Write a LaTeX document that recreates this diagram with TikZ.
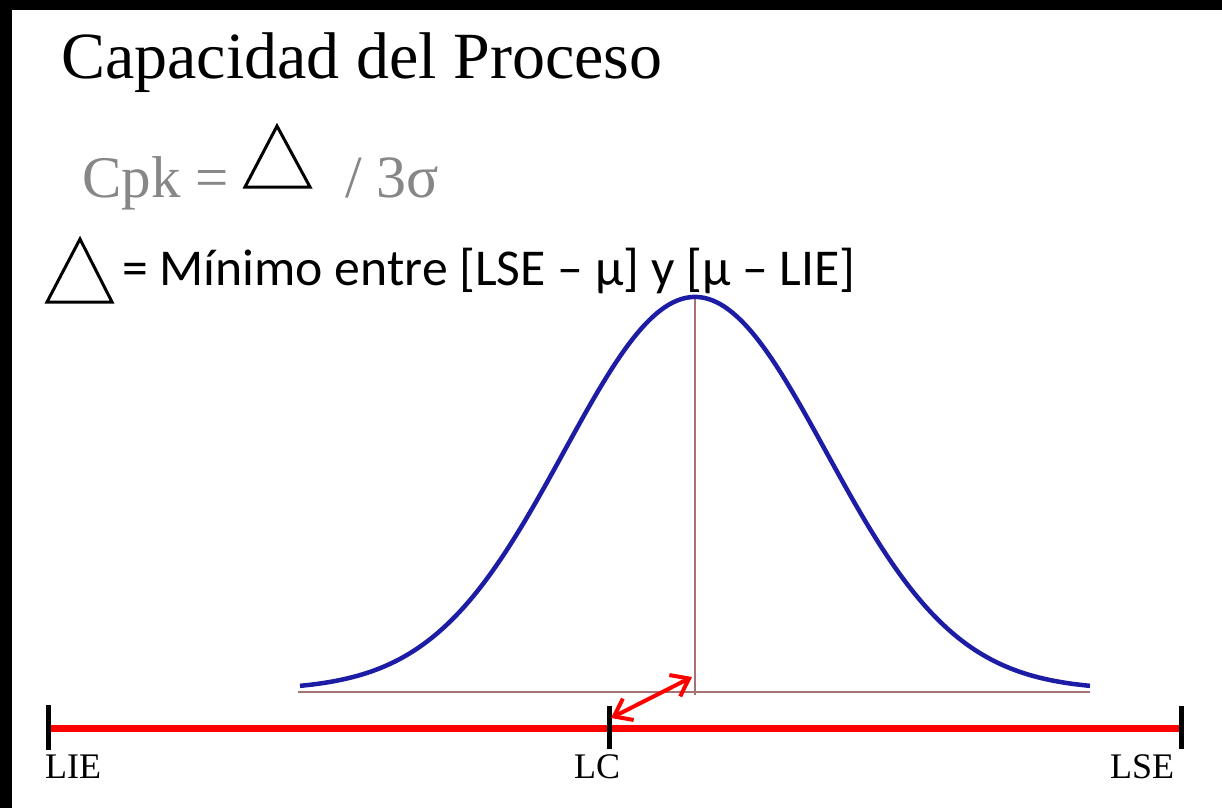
\documentclass[tikz,border=0pt]{standalone}
\usepackage{fontspec}
\setmainfont{Liberation Serif}
\newfontfamily\calib{Carlito}
\usetikzlibrary{arrows.meta}
\definecolor{curveblue}{RGB}{28,28,165}
\definecolor{axisbrown}{RGB}{165,115,115}
\definecolor{cpkgray}{RGB}{135,135,135}
\tikzset{
  txt/.style={inner sep=0pt, anchor=base west},
  tri/.style={draw=black, line width=3pt, line join=miter},
  tickmark/.style={draw=black, line width=5pt},
  redaxis/.style={draw=red, line width=7pt},
  guide/.style={draw=axisbrown, line width=1.3pt},
  gauss/.style={draw=curveblue, line width=4.5pt, line join=round},
  dblarrow/.style={draw=red, line width=4pt, {Straight Barb[length=16pt,width=24pt,line width=4pt]}-{Straight Barb[length=16pt,width=24pt,line width=4pt]}}
}
\begin{document}
\begin{tikzpicture}[x=1pt,y=-1pt]
\useasboundingbox (0,0) rectangle (1222,808);
\fill[black] (0,0) rectangle (1222,808);
\fill[white] (12,10) rectangle (1222,808);

% title
\node[txt] (title) at (61,78) {\fontsize{66}{76}\selectfont Capacidad del Proceso};

% Cpk line
\node[txt, text=cpkgray] (cpk) at (82,197) {\fontsize{59}{66}\selectfont Cpk =};
\draw[tri] (277,126) -- (310,187) -- (245,187) -- cycle;
\node[txt, text=cpkgray] (sig) at (345,197) {\fontsize{60}{66}\selectfont / 3σ};

% Delta definition
\draw[tri] (80,239) -- (112,302) -- (47,302) -- cycle;
\node[txt] (defn) at (122,285) {\calib\fontsize{51.7}{60}\selectfont = Mínimo entre [LSE – μ] y [μ – LIE]};

% normal curve
\coordinate (bl) at (298,692);
\coordinate (br) at (1090,692);
\coordinate (mtop) at (695,297);
\coordinate (mbot) at (695,695);
\draw[guide] (bl) -- (br);
\draw[guide] (mtop) -- (mbot);
\draw[gauss] plot[domain=-3.0153:3.0153, samples=200, smooth] ({695+131*\x},{690-393*exp(-\x*\x/2)});

% spec axis
\coordinate (lie) at (48,728);
\coordinate (lc) at (609,728);
\coordinate (lse) at (1181,728);
\draw[redaxis] (lie) -- (lse);
\draw[tickmark] ([yshift=-22pt]lie) -- ([yshift=23pt]lie);
\draw[tickmark] ([yshift=-21pt]lc) -- ([yshift=22pt]lc);
\draw[tickmark] ([yshift=-21pt]lse) -- ([yshift=22pt]lse);

\node[txt] (lielab) at (45,778) {\fontsize{36}{40}\selectfont LIE};
\node[txt] (lclab) at (574,778) {\fontsize{36}{40}\selectfont LC};
\node[txt] (lselab) at (1110,778) {\fontsize{36}{40}\selectfont LSE};

% double arrow
\coordinate (arA) at (611,718);
\coordinate (arB) at (692,677);
\draw[dblarrow] (arA) -- (arB);
\end{tikzpicture}
\end{document}
